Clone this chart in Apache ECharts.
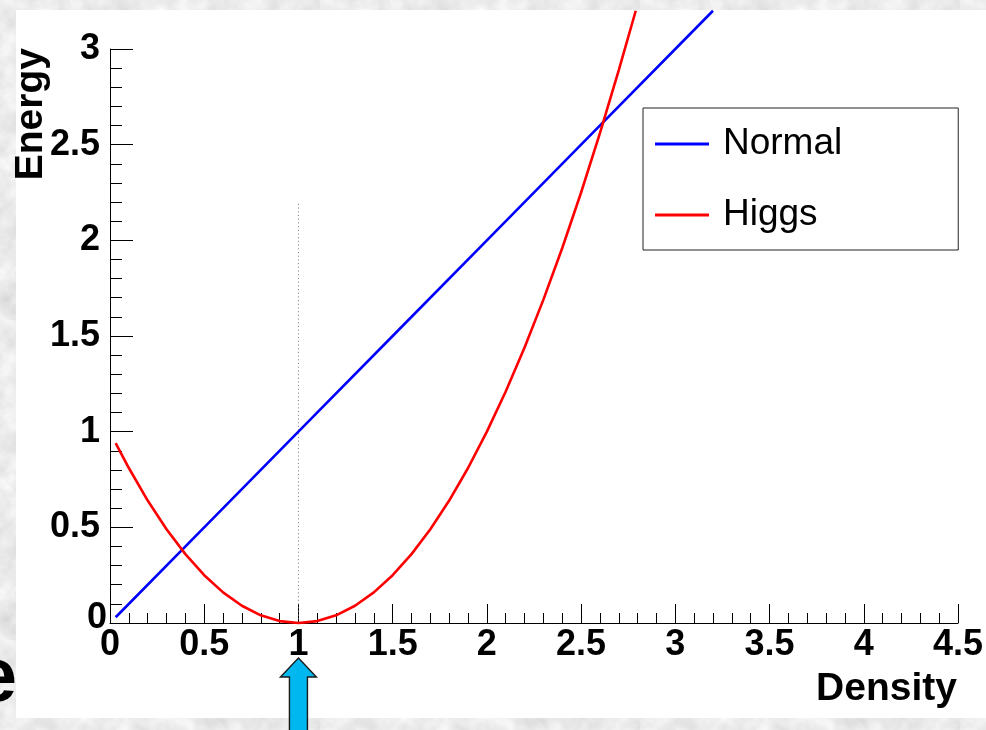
<!DOCTYPE html>
<html>
<head>
<meta charset="utf-8">
<title>Energy vs Density</title>
<script src="https://cdn.jsdelivr.net/npm/echarts@6/dist/echarts.min.js"></script>
<style>
  html, body { margin: 0; padding: 0; }
  body { width: 986px; height: 730px; overflow: hidden; background: #d5d5d5; }
  #chart { width: 986px; height: 730px; }
</style>
</head>
<body>
<div id="chart"></div>
<script>
// Mottled grey slide backdrop
const noise = "<svg xmlns='http://www.w3.org/2000/svg' width='320' height='320'>" +
  "<filter id='n'><feTurbulence type='fractalNoise' baseFrequency='0.045' numOctaves='4' seed='7'/>" +
  "<feColorMatrix type='matrix' values='0.36 0 0 0 0.65  0.36 0 0 0 0.65  0.36 0 0 0 0.65  0 0 0 0 1'/></filter>" +
  "<rect width='100%' height='100%' filter='url(#n)'/></svg>";
document.body.style.backgroundImage = 'url("data:image/svg+xml,' + encodeURIComponent(noise) + '")';

// Axis ranges and ticks
const xMin = 0, xMax = 4.5, xStep = 0.5;
const yMin = 0, yMax = 3, yStep = 0.5;

// "Normal" curve: energy grows linearly with density
const normalX = [0.03, 0.53, 1.03, 1.53, 2.03, 2.53, 3.03, 3.2];
const normalY = [0.03, 0.53, 1.03, 1.53, 2.03, 2.53, 3.03, 3.2];

// "Higgs" curve: well with its minimum at density 1
const higgsX = [0.03, 0.1, 0.2, 0.3, 0.4, 0.5, 0.6, 0.7, 0.8, 0.9, 1.0, 1.1, 1.2, 1.3, 1.4,
                1.5, 1.6, 1.7, 1.8, 1.9, 2.0, 2.1, 2.2, 2.3, 2.4, 2.5, 2.6, 2.7, 2.79];
const higgsY = [0.94, 0.81, 0.64, 0.49, 0.36, 0.25, 0.16, 0.09, 0.04, 0.01, 0.0, 0.01, 0.04, 0.09, 0.16,
                0.25, 0.36, 0.49, 0.64, 0.81, 1.0, 1.21, 1.44, 1.69, 1.96, 2.25, 2.56, 2.89, 3.2];

// Dotted marker at the vacuum density
const guideX = [1, 1];
const guideY = [0, 2.2];

const seriesNames = ['Normal', 'Higgs'];
const axisTitles = { x: 'Density', y: 'Energy' };

const zip = (xs, ys) => xs.map((x, i) => [x, ys[i]]);

const FONT = "'Liberation Sans', Arial, Helvetica, sans-serif";
const labelStyle = { fontFamily: FONT, fontWeight: 'bold', fontSize: 36, color: '#000', lineHeight: 36 };

const chart = echarts.init(document.getElementById('chart'), null, { renderer: 'canvas' });

const option = {
  animation: false,
  backgroundColor: 'transparent',
  grid: { left: 110, right: 27, top: 49, bottom: 107, containLabel: false },
  xAxis: {
    type: 'value', min: xMin, max: xMax, interval: xStep,
    axisLine: { show: true, onZero: false, lineStyle: { color: '#000', width: 1 } },
    axisTick: { show: true, inside: true, length: 19, lineStyle: { color: '#000', width: 1 } },
    minorTick: { show: true, splitNumber: 5, length: 10, lineStyle: { color: '#000', width: 1 } },
    splitLine: { show: false },
    axisLabel: Object.assign({ margin: 4 }, labelStyle)
  },
  yAxis: {
    type: 'value', min: yMin, max: yMax, interval: yStep,
    axisLine: { show: true, onZero: false, lineStyle: { color: '#000', width: 1 } },
    axisTick: { show: true, inside: true, length: 23, lineStyle: { color: '#000', width: 1 } },
    minorTick: { show: true, splitNumber: 5, length: 12, lineStyle: { color: '#000', width: 1 } },
    splitLine: { show: false },
    axisLabel: {
      margin: 3,
      formatter: v => (v === 0 ? '{z|0}' : '{n|' + v + '}'),
      rich: {
        n: Object.assign({ padding: [0, 7, 0, 0] }, labelStyle),
        z: Object.assign({ padding: [0, 0, 10, 0] }, labelStyle)
      }
    }
  },
  legend: {
    data: seriesNames,
    orient: 'vertical',
    left: 643, top: 108,
    padding: [13.5, 116, 12.5, 12],
    itemGap: 26,
    itemWidth: 54, itemHeight: 3,
    icon: 'rect',
    backgroundColor: '#fff',
    borderColor: '#222', borderWidth: 1, borderRadius: 0,
    selectedMode: false,
    textStyle: { fontFamily: FONT, fontSize: 37, lineHeight: 37, color: '#000', padding: [8, 0, 0, 9] }
  },
  series: [
    {
      name: seriesNames[0], type: 'line', data: zip(normalX, normalY),
      symbol: 'none', clip: false, z: 3,
      lineStyle: { color: '#0000ff', width: 2.6 }, itemStyle: { color: '#0000ff' }
    },
    {
      name: seriesNames[1], type: 'line', data: zip(higgsX, higgsY),
      symbol: 'none', clip: false, z: 4,
      lineStyle: { color: '#ff0000', width: 2.6 }, itemStyle: { color: '#ff0000' }
    },
    {
      name: 'guide', type: 'line', data: zip(guideX, guideY),
      symbol: 'none', silent: true, z: 2,
      lineStyle: { color: '#777', width: 1, type: [1, 2.7] }
    }
  ]
};

chart.setOption(option);

// Frame, axis titles and the pointer arrow under the vacuum density
const arrowX = chart.convertToPixel({ xAxisIndex: 0 }, guideX[0]);
chart.setOption({
  graphic: [
    {
      type: 'text', z: -20, x: 17, y: 680,
      style: { text: 'e', fontFamily: FONT, fontWeight: 'bold', fontSize: 76, fill: '#000', align: 'right', verticalAlign: 'middle' }
    },
    {
      type: 'rect', z: -10, shape: { x: 16, y: 10, width: 970, height: 708 },
      style: { fill: '#fff' }
    },
    {
      type: 'text', z: 10, x: 957, y: 689,
      style: { text: axisTitles.x, fontFamily: FONT, fontWeight: 'bold', fontSize: 39, fill: '#000', align: 'right', verticalAlign: 'middle' }
    },
    {
      type: 'text', z: 10, x: 31, y: 48, rotation: Math.PI / 2,
      style: { text: axisTitles.y, fontFamily: FONT, fontWeight: 'bold', fontSize: 39, fill: '#000', align: 'right', verticalAlign: 'middle' }
    },
    {
      type: 'polygon', z: 20,
      shape: { points: [
        [arrowX, 658], [arrowX + 18, 677], [arrowX + 9, 677], [arrowX + 9, 735],
        [arrowX - 9, 735], [arrowX - 9, 677], [arrowX - 18, 677]
      ] },
      style: { fill: '#00b7ef', stroke: '#1a1a1a', lineWidth: 1.4 }
    }
  ]
});
</script>
</body>
</html>
